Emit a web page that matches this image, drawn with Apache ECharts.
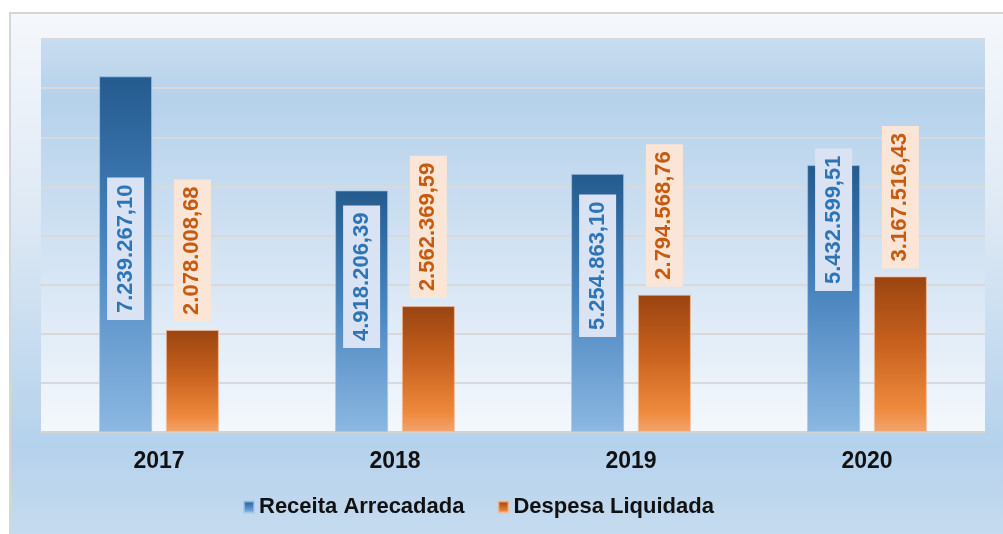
<!DOCTYPE html>
<html>
<head>
<meta charset="utf-8">
<script src="https://cdn.jsdelivr.net/npm/echarts@6/dist/echarts.min.js"></script>
<style>
  html, body { margin: 0; padding: 0; background: #ffffff; }
  #chart { width: 1003px; height: 534px; }
</style>
</head>
<body>
<div id="chart"></div>
<script>
// Annual revenue vs. settled expenditure
const years = ['2017', '2018', '2019', '2020'];
const receitaArrecadada = [7239267.10, 4918206.39, 5254863.10, 5432599.51];
const despesaLiquidada = [2078008.68, 2562369.59, 2794568.76, 3167516.43];
const seriesNames = ['Receita Arrecadada', 'Despesa Liquidada'];

// how far each revenue label sits above the bar base (px)
const receitaLabelLift = [112, 84, 95, 141];

// 1234567.8 -> "1.234.567,80"
function formatBR(v) {
  const fixed = v.toFixed(2);
  const [intPart, dec] = fixed.split('.');
  const withDots = intPart.replace(/\B(?=(\d{3})+(?!\d))/g, '.');
  return withDots + ',' + dec;
}

function vgrad(stops) {
  return {
    type: 'linear', x: 0, y: 0, x2: 0, y2: 1,
    colorStops: stops.map(([offset, color]) => ({ offset, color }))
  };
}

const sansFont = '"Liberation Sans", Arial, sans-serif';

const blueFill = vgrad([[0, '#245b8e'], [0.45, '#4682bd'], [1, '#8cb8e2']]);
const orangeFill = vgrad([[0, '#9a4410'], [0.45, '#c9621f'], [0.85, '#ee8a3d'], [1, '#f3a46c']]);

const valueLabel = {
  show: true,
  rotate: 90,
  align: 'left',
  verticalAlign: 'middle',
  formatter: p => formatBR(p.value),
  fontFamily: sansFont,
  fontWeight: 'bold',
  fontSize: 22,
  lineHeight: 27,
  padding: [5, 7]
};

const chart = echarts.init(document.getElementById('chart'));

chart.setOption({
  animation: false,
  graphic: [{
    type: 'rect',
    z: -100,
    shape: { x: 10, y: 13, width: 1010, height: 540 },
    style: {
      fill: vgrad([[0, '#f5f8fc'], [0.35, '#e0eaf5'], [0.8, '#b5d2ec'], [1, '#c9ddf0']]),
      stroke: '#d6d6d6',
      lineWidth: 2
    }
  }],
  grid: {
    left: 41, right: 18, top: 39, bottom: 102,
    show: true,
    borderWidth: 0,
    backgroundColor: vgrad([[0, '#c9dcef'], [0.15, '#b5d2eb'], [0.55, '#d3e3f3'], [1, '#f4f8fc']])
  },
  legend: {
    left: 243,
    top: 496,
    padding: 0,
    itemWidth: 10,
    itemHeight: 11,
    itemGap: 33,
    icon: 'rect',
    textStyle: {
      fontFamily: sansFont,
      fontWeight: 'bold',
      fontSize: 22,
      color: '#111111'
    },
    data: seriesNames
  },
  xAxis: {
    type: 'category',
    data: years,
    axisLine: { lineStyle: { color: '#d4d4d4', width: 2 } },
    axisTick: { show: false },
    axisLabel: {
      margin: 18,
      fontFamily: sansFont,
      fontWeight: 'bold',
      fontSize: 23,
      color: '#111111'
    }
  },
  yAxis: {
    type: 'value',
    min: 0,
    max: 8000000,
    interval: 1000000,
    axisLine: { show: false },
    axisTick: { show: false },
    axisLabel: { show: false },
    splitLine: { lineStyle: { color: '#d9d9d9', width: 2 } }
  },
  series: [
    {
      name: seriesNames[0],
      type: 'bar',
      barWidth: 53,
      barGap: '26%',
      itemStyle: { color: blueFill, borderColor: 'rgba(160,200,235,0.7)', borderWidth: 1 },
      data: receitaArrecadada.map((v, i) => ({
        value: v,
        label: { distance: receitaLabelLift[i] }
      })),
      label: Object.assign({}, valueLabel, {
        position: 'insideBottom',
        color: '#2e75b6',
        backgroundColor: '#dae3f3'
      })
    },
    {
      name: seriesNames[1],
      type: 'bar',
      barWidth: 53,
      itemStyle: { color: orangeFill, borderColor: 'rgba(248,190,150,0.7)', borderWidth: 1 },
      data: despesaLiquidada,
      label: Object.assign({}, valueLabel, {
        position: 'top',
        distance: 8,
        color: '#c55a11',
        backgroundColor: '#fbe5d6'
      })
    }
  ]
});
</script>
</body>
</html>
